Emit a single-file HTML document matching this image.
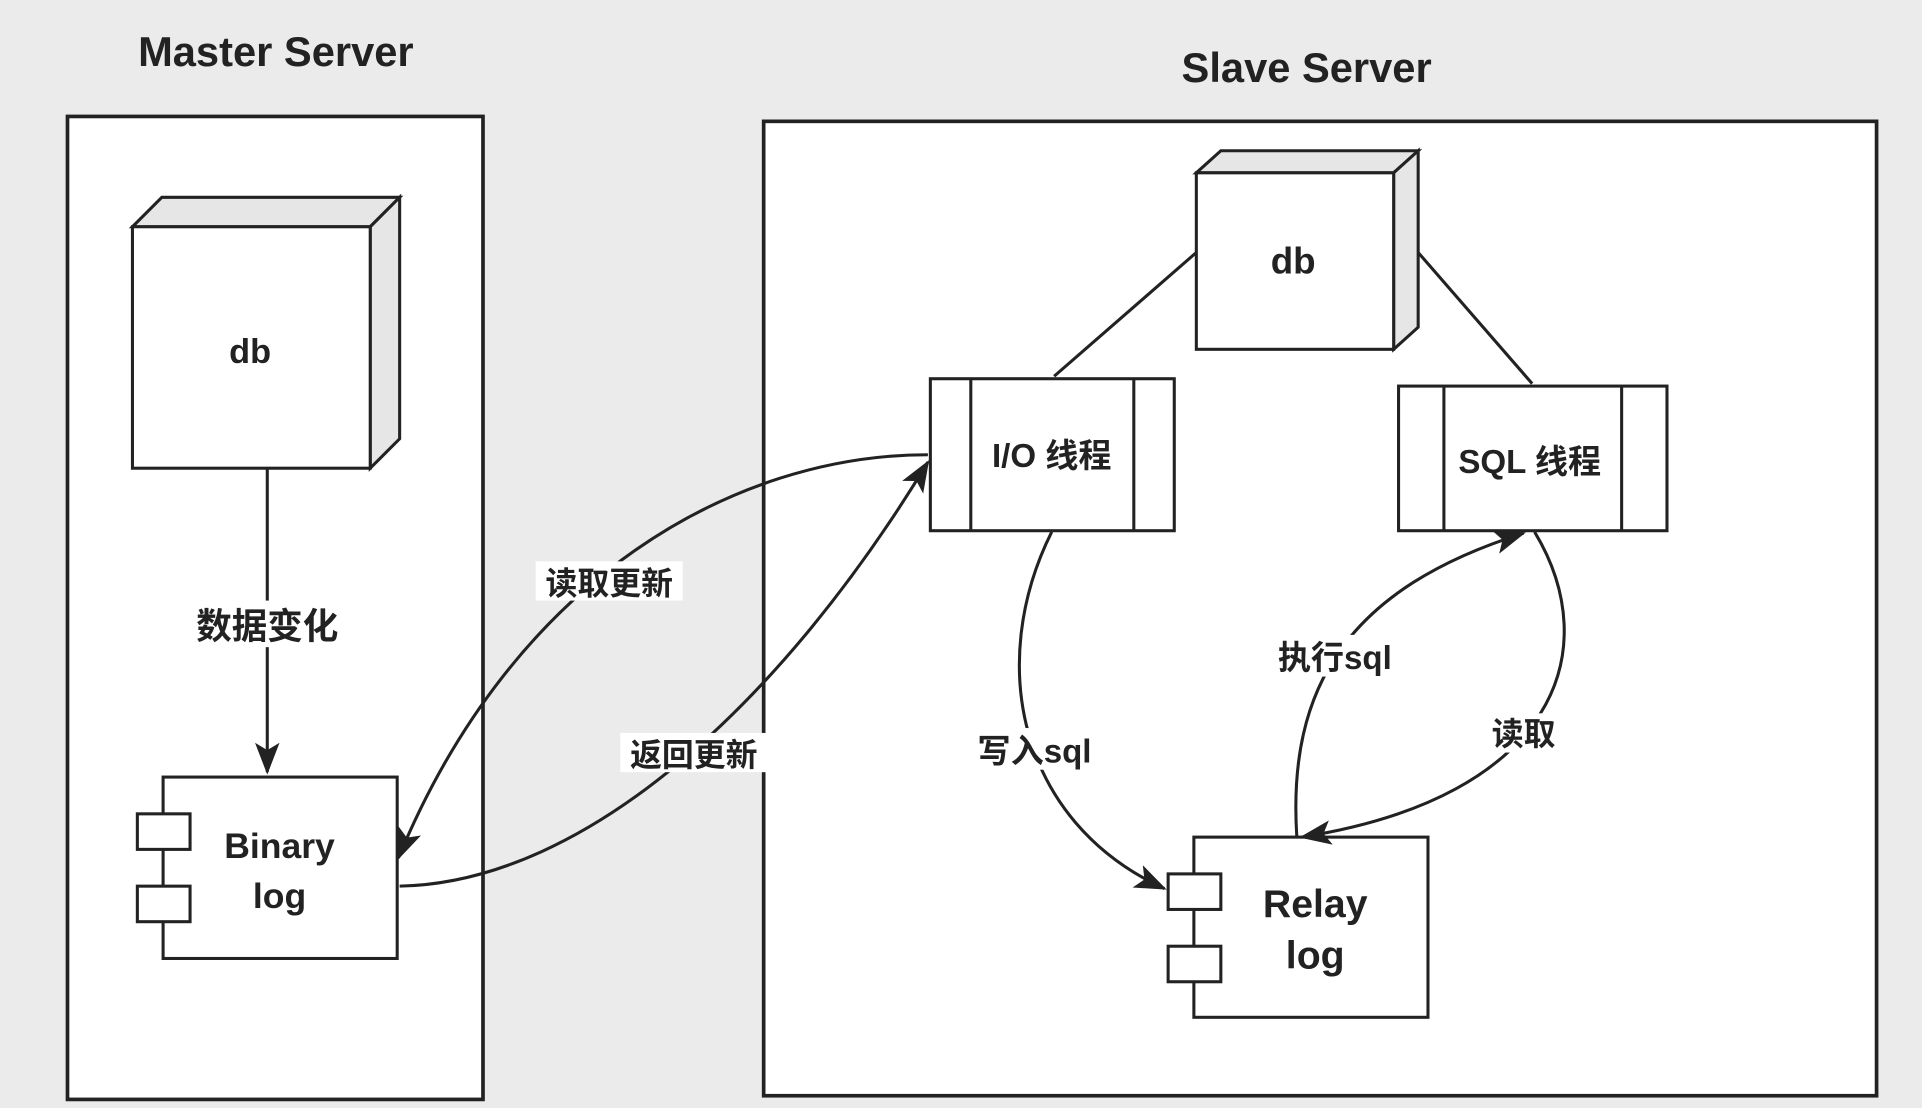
<!DOCTYPE html>
<html><head><meta charset="utf-8"><style>
html,body{margin:0;padding:0;background:#ebebeb;}
svg{display:block}
text{font-family:"Liberation Sans","Noto Sans CJK SC",sans-serif;fill:#222;}
</style></head><body>
<svg width="1922" height="1108" viewBox="0 0 1568 904" xmlns="http://www.w3.org/2000/svg">
<defs>
<marker id="a" markerWidth="26" markerHeight="20" refX="24" refY="10" orient="auto" markerUnits="userSpaceOnUse" viewBox="0 0 26 20">
<path d="M0,0 L26,10 L0,20 L6,10 z" fill="#222"/>
</marker>
</defs>
<rect width="1568" height="904" fill="#ebebeb"/>
<text x="225" y="54" font-size="34" font-weight="bold" text-anchor="middle" fill="#333">Master Server</text>
<text x="1066" y="67" font-size="34" font-weight="bold" text-anchor="middle" fill="#333">Slave Server</text>
<rect x="55" y="95" width="339" height="802" fill="#fff" stroke="#222" stroke-width="3"/>
<rect x="623" y="99" width="908" height="795" fill="#fff" stroke="#222" stroke-width="3"/>
<g stroke="#222" stroke-width="2.5">
<path d="M108,185 L132,161 L326,161 L302,185 Z" fill="#e6e6e6"/>
<path d="M302,185 L326,161 L326,358 L302,382 Z" fill="#e6e6e6"/>
<rect x="108" y="185" width="194" height="197" fill="#fff"/>
<rect x="133" y="634" width="191" height="148" fill="#fff"/>
<rect x="112" y="664" width="43" height="29" fill="#fff"/>
<rect x="112" y="723" width="43" height="29" fill="#fff"/>
<path d="M976,141 L996,123 L1157,123 L1137,141 Z" fill="#e6e6e6"/>
<path d="M1137,141 L1157,123 L1157,267 L1137,285 Z" fill="#e6e6e6"/>
<rect x="976" y="141" width="161" height="144" fill="#fff"/>
<rect x="759" y="309" width="199" height="124" fill="#fff"/>
<line x1="792" y1="309" x2="792" y2="433"/><line x1="925" y1="309" x2="925" y2="433"/>
<rect x="1141" y="315" width="219" height="118" fill="#fff"/>
<line x1="1178" y1="315" x2="1178" y2="433"/><line x1="1323" y1="315" x2="1323" y2="433"/>
<rect x="974" y="683" width="191" height="147" fill="#fff"/>
<rect x="953" y="713" width="43" height="29" fill="#fff"/>
<rect x="953" y="772" width="43" height="29" fill="#fff"/>
<line x1="976" y1="206" x2="860" y2="307"/>
<line x1="1157" y1="206" x2="1250" y2="313"/>
<line x1="218" y1="382" x2="218" y2="630" marker-end="url(#a)"/>
<g fill="none">
<path d="M757,371 C600,371 420,470 325,700" marker-end="url(#a)"/>
<path d="M326,723 C480,720 640,570 757,377" marker-end="url(#a)"/>
<path d="M858,434 C805,540 830,670 950,725" marker-end="url(#a)"/>
<path d="M1058,683 C1050,560 1100,480 1243,435" marker-end="url(#a)"/>
<path d="M1252,434 C1310,530 1270,650 1062,683" marker-end="url(#a)"/>
</g>
</g>
<g font-weight="bold" text-anchor="middle">
<text x="204" y="296" font-size="28">db</text>
<text x="1055" y="223" font-size="30">db</text>
<text x="228" y="700" font-size="29">Binary</text>
<text x="228" y="741" font-size="29">log</text>
<text x="1073" y="748" font-size="32">Relay</text>
<text x="1073" y="790" font-size="32">log</text>
<text x="858" y="381" font-size="27">I/O 线程</text>
<text x="1248" y="386" font-size="27">SQL 线程</text>
<rect x="152" y="490" width="130" height="38" fill="#fff"/>
<text x="218" y="521" font-size="29">数据变化</text>
<rect x="437" y="458" width="120" height="32" fill="#fff"/>
<text x="497" y="485" font-size="26">读取更新</text>
<rect x="506" y="598" width="120" height="32" fill="#fff"/>
<text x="566" y="625" font-size="26">返回更新</text>
<rect x="790" y="594" width="108" height="34" fill="#fff"/>
<text x="844" y="622" font-size="27">写入sql</text>
<rect x="1034" y="518" width="110" height="34" fill="#fff"/>
<text x="1089" y="546" font-size="27">执行sql</text>
<rect x="1211" y="582" width="64" height="32" fill="#fff"/>
<text x="1243" y="608" font-size="26">读取</text>
</g>
</svg>
</body></html>
